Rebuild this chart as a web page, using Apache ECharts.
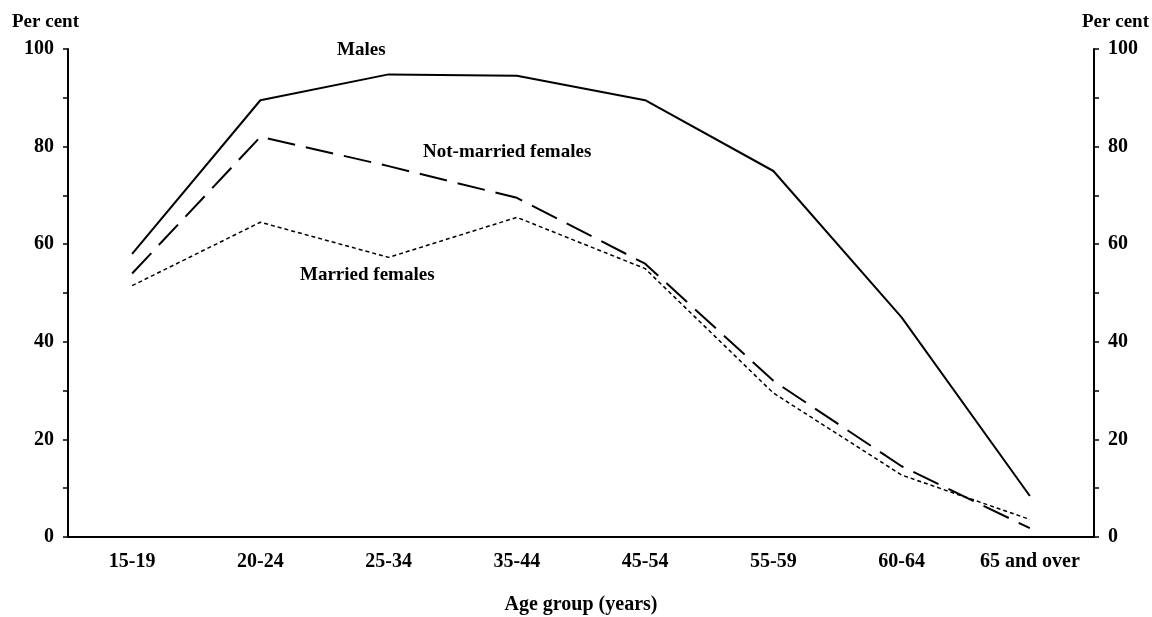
<!DOCTYPE html>
<html><head><meta charset="utf-8">
<script src="https://cdn.jsdelivr.net/npm/echarts@6/dist/echarts.min.js"></script>
<style>html,body{margin:0;padding:0;background:#fff}#c{width:1152px;height:617px}</style>
</head><body><div id="c"></div>
<script>
var categories = ['15-19','20-24','25-34','35-44','45-54','55-59','60-64','65 and over'];
var males = [58, 89.5, 94.8, 94.5, 89.5, 75, 45, 8.4];
var notMarried = [54, 82, 76, 69.5, 56, 32, 14.5, 1.8];
var married = [51.5, 64.5, 57.3, 65.5, 55, 29.5, 12.7, 3.6];
var yTicks = [0, 20, 40, 60, 80, 100];

var font = '"Liberation Serif", "DejaVu Serif", serif';
var chart = echarts.init(document.getElementById('c'));
function yAxis(pos){
  return {
    type:'value', position:pos, min:0, max:100, interval:10,
    axisLine:{show:true, lineStyle:{color:'#000', width:2}},
    axisTick:{show:true, inside:false, length:5, lineStyle:{color:'#000', width:1.5}},
    axisLabel:{color:'#000', fontFamily:font, fontWeight:'bold', fontSize:20, margin:14,
      formatter:function(v){ return yTicks.indexOf(v)>=0 ? String(v) : ''; }},
    splitLine:{show:false}
  };
}
chart.setOption({
  animation:false,
  backgroundColor:'#fff',
  grid:{left:68, right:58, top:49, bottom:80, containLabel:false, outerBoundsMode:'none'},
  xAxis:{
    type:'category', data:categories, boundaryGap:true,
    name:'Age group (years)', nameLocation:'middle', nameGap:58,
    nameTextStyle:{color:'#000', fontFamily:font, fontWeight:'bold', fontSize:20},
    axisLine:{lineStyle:{color:'#000', width:2}},
    axisTick:{alignWithLabel:true, interval:0, length:4, lineStyle:{color:'#000', width:1.5}},
    axisLabel:{color:'#000', fontFamily:font, fontWeight:'bold', fontSize:20, margin:15, interval:0}
  },
  yAxis:[yAxis('left'), yAxis('right')],
  series:[
    {name:'Males', type:'line', data:males, symbol:'none', lineStyle:{color:'#000', width:2, type:'solid'}},
    {name:'Not-married females', type:'line', data:notMarried, symbol:'none', lineStyle:{color:'#000', width:2, type:[28,11]}},
    {name:'Married females', type:'line', data:married, symbol:'none', lineStyle:{color:'#000', width:1.5, type:[4,3]}}
  ],
  graphic:[
    {type:'text', left:12, top:13, style:{text:'Per cent', font:'bold 19px '+font, fill:'#000'}},
    {type:'text', left:1082, top:13, style:{text:'Per cent', font:'bold 19px '+font, fill:'#000'}},
    {type:'text', left:337, top:41, style:{text:'Males', font:'bold 19px '+font, fill:'#000'}},
    {type:'text', left:423, top:143, style:{text:'Not-married females', font:'bold 19px '+font, fill:'#000'}},
    {type:'text', left:300, top:266, style:{text:'Married females', font:'bold 19px '+font, fill:'#000'}}
  ]
});
</script></body></html>
